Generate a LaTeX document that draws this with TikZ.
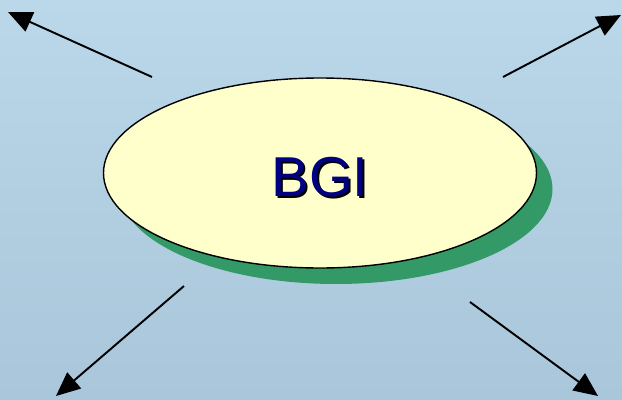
\documentclass[tikz,border=0pt]{standalone}
\usepackage{fontspec}
\setmainfont{Liberation Sans}
\usetikzlibrary{shapes.geometric}
\usetikzlibrary{arrows.meta}

\definecolor{skytop}{RGB}{186,216,234}
\definecolor{skybottom}{RGB}{170,198,218}
\definecolor{bgishadow}{RGB}{51,153,102}
\definecolor{bgifill}{RGB}{255,255,204}
\definecolor{bgitext}{RGB}{0,0,128}

\tikzset{
  link/.style={line width=1.1pt, -{Triangle[length=0.48cm, width=0.42cm]}}
}

\begin{document}
\begin{tikzpicture}[x=0.02cm, y=-0.02cm]
\shade[top color=skytop, bottom color=skybottom] (0,0) rectangle (622,399);
\useasboundingbox (0,0) rectangle (622,399);

\node[draw=none, fill=bgishadow, ellipse, minimum width=433*0.02cm,
   minimum height=190*0.02cm, inner sep=0pt] (shadow) at (336,189) {};
\node[draw, line width=0.8pt, fill=bgifill, ellipse, minimum width=433*0.02cm,
   minimum height=190*0.02cm, inner sep=0pt] (bgi) at (320,173) {};
\node[text=black, font=\fontsize{32}{32}\selectfont] (bgilabelshadow)
   at (322,179) {BGI};
\node[text=bgitext, font=\fontsize{32}{32}\selectfont] (bgilabel)
   at (320,177) {BGI};

\coordinate (nwfrom) at (152,77);
\coordinate (nwto) at (8,12);
\coordinate (nefrom) at (503,77);
\coordinate (neto) at (621,15);
\coordinate (swfrom) at (184,286);
\coordinate (swto) at (56,396);
\coordinate (sefrom) at (470,302);
\coordinate (seto) at (598,396);

\draw[link] (nwfrom) -- (nwto);
\draw[link] (nefrom) -- (neto);
\draw[link] (swfrom) -- (swto);
\draw[link] (sefrom) -- (seto);
\end{tikzpicture}
\end{document}
